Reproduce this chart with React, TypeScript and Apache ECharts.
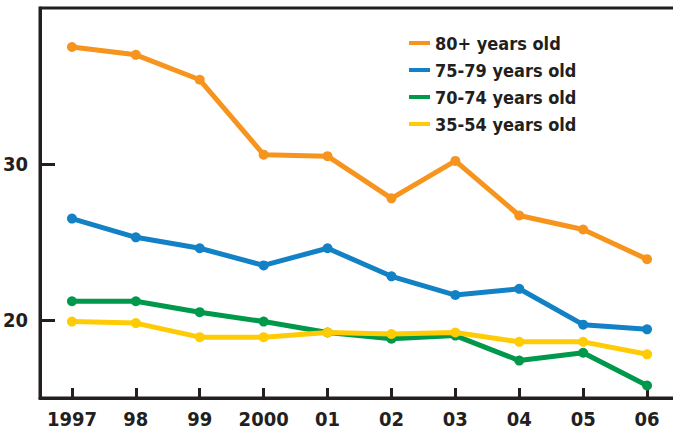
import React, { useEffect, useRef } from "react";
import * as echarts from "echarts";

const years = ["1997", "98", "99", "2000", "01", "02", "03", "04", "05", "06"];
const seriesNames = ["80+ years old", "75-79 years old", "70-74 years old", "35-54 years old"];
const age80plus = [37.5, 37.0, 35.4, 30.6, 30.5, 27.8, 30.2, 26.7, 25.8, 23.9];
const age75to79 = [26.5, 25.3, 24.6, 23.5, 24.6, 22.8, 21.6, 22.0, 19.7, 19.4];
const age70to74 = [21.2, 21.2, 20.5, 19.9, 19.2, 18.8, 19.0, 17.4, 17.9, 15.8];
const age35to54 = [19.9, 19.8, 18.9, 18.9, 19.2, 19.1, 19.2, 18.6, 18.6, 17.8];
const yTickValues = [20, 30];

const colors = ["#F7941E", "#1381C5", "#00994C", "#FFCB05"];
const dark = "#231F20";
const font = '"Liberation Sans Narrow", "DejaVu Sans Condensed", "Arial Narrow", sans-serif';

export default function App() {
  const ref = useRef<HTMLDivElement>(null);
  useEffect(() => {
    if (!ref.current) return;
    const chart = echarts.init(ref.current, null, { renderer: "svg" });
    const allData = [age80plus, age75to79, age70to74, age35to54];
    chart.setOption({
      animation: false,
      backgroundColor: "#ffffff",
      grid: {
        left: 40,
        width: 639,
        top: 8,
        height: 390,
        outerBoundsMode: "none",
        containLabel: false,
        show: true,
        borderColor: dark,
        borderWidth: 3,
        backgroundColor: "transparent",
      },
      legend: {
        orient: "vertical",
        left: 409,
        top: 33,
        padding: 0,
        icon: "rect",
        itemWidth: 21,
        itemHeight: 4,
        itemGap: 7,
        textStyle: {
          fontFamily: font,
          fontWeight: "bold",
          fontSize: 18,
          lineHeight: 20,
          color: dark,
        },
        data: seriesNames,
      },
      xAxis: {
        type: "category",
        data: years,
        boundaryGap: true,
        axisLine: { show: true, lineStyle: { color: dark, width: 3 } },
        axisTick: {
          show: true,
          inside: true,
          length: 10,
          alignWithLabel: true,
          interval: 0,
          lineStyle: { color: dark, width: 3 },
        },
        axisLabel: {
          interval: 0,
          margin: 11,
          fontFamily: font,
          fontWeight: "bold",
          fontSize: 20,
          color: dark,
        },
        splitLine: { show: false },
      },
      yAxis: {
        type: "value",
        min: 15,
        max: 40,
        axisLine: { show: true, lineStyle: { color: dark, width: 3 } },
        axisTick: {
          show: true,
          inside: true,
          length: 15,
          customValues: yTickValues,
          lineStyle: { color: dark, width: 3 },
        },
        axisLabel: {
          margin: 12,
          fontFamily: font,
          fontWeight: "bold",
          fontSize: 20,
          color: dark,
          customValues: yTickValues,
        },
        splitLine: { show: false },
      },
      series: seriesNames.map((name, i) => ({
        name,
        type: "line",
        data: allData[i],
        symbol: "circle",
        symbolSize: 10,
        lineStyle: { color: colors[i], width: 5 },
        itemStyle: { color: colors[i] },
        z: 2 + i,
      })),
    });
    return () => chart.dispose();
  }, []);
  return (
    <div
      ref={ref}
      style={{ position: "fixed", left: 0, top: 0, width: 673, height: 430 }}
    />
  );
}
